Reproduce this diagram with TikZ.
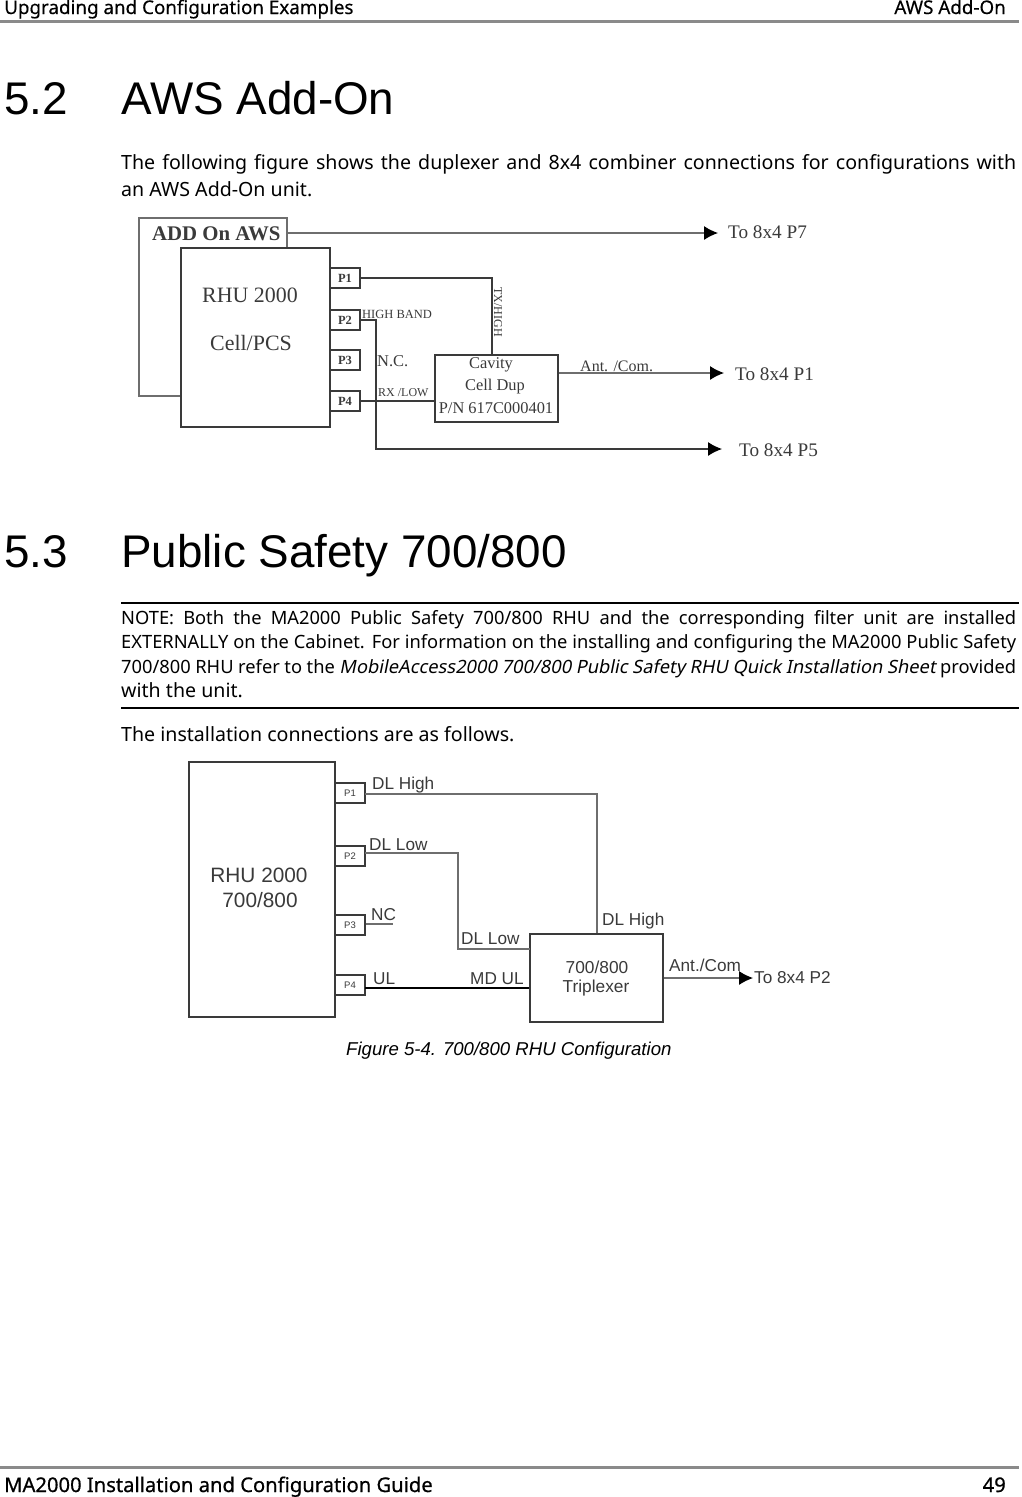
\documentclass[tikz,border=0pt]{standalone}
\usepackage{fontspec}
\usepackage{xcolor}
\usetikzlibrary{arrows.meta}
\setmainfont{Noto Sans}
\newfontfamily\arialfont{Liberation Sans}
\newfontfamily\timesfont{Liberation Serif}
\newfontfamily\pageheadfont[FakeBold=0.35]{Noto Sans}
\newfontfamily\pagefootfont[FakeBold=0.7]{Noto Sans}
\newfontfamily\slantfont[FakeSlant=0.2]{Noto Sans}
\definecolor{linegray}{HTML}{6E6E6E}
\definecolor{inkgray}{HTML}{3A3A3A}
\definecolor{rulegray}{HTML}{8A8A8A}
\newcommand{\fitline}[1]{\hbox to 895pt{#1}}
\tikzset{
  pagehead/.style={anchor=base west,inner sep=0pt,font=\pageheadfont\fontsize{18.8}{20}\selectfont},
  pagefoot/.style={anchor=base west,inner sep=0pt,font=\pagefootfont\fontsize{20.2}{22}\selectfont},
  heading/.style={anchor=base west,inner sep=0pt,font=\arialfont\fontsize{45.8}{50}\selectfont},
  bodyline/.style={anchor=base west,inner sep=0pt,font=\fontsize{19.6}{22}\selectfont},
  noteline/.style={anchor=base west,inner sep=0pt,font=\fontsize{18.3}{22}\selectfont},
  caption/.style={anchor=base west,inner sep=0pt,font=\arialfont\itshape\fontsize{18.6}{20}\selectfont},
  unitbox/.style={draw=inkgray,fill=white,line width=1.1pt,inner sep=0pt},
  portbox/.style={unitbox,minimum width=30pt,minimum height=20pt},
  wire/.style={draw=linegray,line width=1.1pt},
  feed/.style={wire,-{Latex[black,length=14pt,width=14pt]}},
  serif/.style={anchor=west,inner sep=0pt,text=inkgray,font=\timesfont\fontsize{#1}{#1}\selectfont},
  serif/.default=19.2,
  sans/.style={anchor=west,inner sep=0pt,text=inkgray,font=\arialfont\fontsize{#1}{#1}\selectfont},
  sans/.default=17.2,
  portlabel/.style={anchor=center,inner sep=0pt,text=inkgray,font=\timesfont\bfseries\fontsize{12.5}{12}\selectfont}
}
\begin{document}
\begin{tikzpicture}[x=1pt,y=-1pt]
  \useasboundingbox (0,0) rectangle (1021,1497);
  % page furniture
  \node[pagehead] (headleft) at (4,14) {Upgrading and Configuration Examples};
  \node[pagehead,anchor=base east] (headright) at (1006,14) {AWS Add-On};
  \draw[rulegray,line width=3pt] (0,21) -- (1019,21);
  \draw[rulegray,line width=3pt] (0,1467) -- (1019,1467);
  \node[pagefoot] (footleft) at (4,1492) {MA2000 Installation and Configuration Guide};
  \node[pagefoot,anchor=base east] (footright) at (1006,1492) {49};
  % section 5.2
  \node[heading] (numaws) at (4,114) {5.2};
  \node[heading] (titleaws) at (121,114) {AWS Add-On};
  \node[bodyline] (introa) at (121,169) {\fitline{The following figure shows the duplexer and 8x4 combiner connections for configurations with}};
  \node[bodyline] (introb) at (121,196) {an AWS Add-On unit.};
  % first figure
  \node[unitbox,draw=linegray,minimum width=148pt,minimum height=178pt] (addon) at (213,307) {};
  \node[unitbox,minimum width=149pt,minimum height=179pt] (rhucell) at (255.5,337.5) {};
  \node[serif=20.8,font=\timesfont\bfseries\fontsize{20.8}{20}\selectfont] (addlabel) at (152,234) {ADD On AWS};
  \node[serif=21.9,anchor=center] (rhua) at (250,295) {RHU 2000};
  \node[serif=21.9,anchor=center] (rhub) at (251,343) {Cell/PCS};
  \node[portbox] (cpa) at (345,278) {};
  \node[portbox] (cpb) at (345,320) {};
  \node[portbox] (cpc) at (345,360) {};
  \node[portbox] (cpd) at (345,401) {};
  \node[portlabel] (cpatext) at (cpa) {P1};
  \node[portlabel] (cpbtext) at (cpb) {P2};
  \node[portlabel] (cpctext) at (cpc) {P3};
  \node[portlabel] (cpdtext) at (cpd) {P4};
  \node[unitbox,minimum width=123pt,minimum height=67pt] (cavity) at (496.5,388.5) {};
  \node[serif=16.4,anchor=center] (cava) at (491,365) {Cavity};
  \node[serif=16.4,anchor=center] (cavb) at (495,387) {Cell Dup};
  \node[serif=16.4,anchor=center] (cavc) at (496,408) {P/N 617C000401};
  \node[serif] (top) at (728,232) {To 8x4 P7};
  \node[serif] (top1) at (735,374) {To 8x4 P1};
  \node[serif] (top5) at (739,450) {To 8x4 P5};
  \coordinate (txdrop) at (492,278);
  \coordinate (hicorner) at (376,320);
  \coordinate (hiend) at (722,449);
  \coordinate (addend) at (718,233);
  \coordinate (antend) at (724,373);
  \draw[feed] (287,233) -- (addend);
  \draw[wire,draw=inkgray] (cpa.east) -- (txdrop) -- (txdrop |- cavity.north);
  \draw[wire,draw=inkgray] (cpd.east) -- (cavity.west |- cpd.east);
  \draw[feed,draw=inkgray] (cpb.east) -- (hicorner) |- (hiend);
  \draw[feed] (cavity.east |- antend) -- (antend);
  \node[serif=12.5] (hiband) at (362,314) {HIGH BAND};
  \node[serif=16.5] (ncone) at (377,361) {N.C.};
  \node[serif=12] (rxlow) at (378,393) {RX /LOW};
  \node[serif=12,anchor=center,rotate=-90] (txhigh) at (498,312) {TX/HIGH};
  \node[serif=16] (antcom) at (580,366) {Ant. /Com.};
  % section 5.3
  \node[heading] (numsafe) at (4,567) {5.3};
  \node[heading] (titlesafe) at (121,567) {Public Safety 700/800};
  \draw[black,line width=1.5pt] (121,603) -- (1019,603);
  \node[noteline] (notea) at (121,624) {\fitline{NOTE: Both the MA2000 Public Safety 700/800 RHU and the corresponding filter unit are installed}};
  \node[noteline] (noteb) at (121,648) {\fitline{EXTERNALLY on the Cabinet. For information on the installing and configuring the MA2000 Public Safety}};
  \node[noteline] (notec) at (121,673) {\fitline{700/800 RHU refer to the {\slantfont MobileAccess2000 700/800 Public Safety RHU Quick Installation Sheet} provided}};
  \node[bodyline] (noted) at (121,697) {with the unit.};
  \draw[black,line width=1.5pt] (121,708) -- (1019,708);
  \node[bodyline] (follows) at (121,741) {The installation connections are as follows.};
  % second figure
  \node[unitbox,line width=2pt,minimum width=146pt,minimum height=255pt] (rhusafe) at (262,889.5) {};
  \node[sans=20.8,anchor=center] (safea) at (259,875) {RHU 2000};
  \node[sans=20.8,anchor=center] (safeb) at (260,900) {700/800};
  \node[portbox] (spa) at (350,793) {};
  \node[portbox] (spb) at (350,856) {};
  \node[portbox] (spc) at (350,925) {};
  \node[portbox] (spd) at (350,985) {};
  \node[sans=9.5,anchor=center] (spatext) at (spa) {P1};
  \node[sans=9.5,anchor=center] (spbtext) at (spb) {P2};
  \node[sans=9.5,anchor=center] (spctext) at (spc) {P3};
  \node[sans=9.5,anchor=center] (spdtext) at (spd) {P4};
  \node[unitbox,minimum width=133pt,minimum height=88pt] (triplex) at (596.5,978) {};
  \node[sans=17.3,anchor=center] (tripa) at (597,967) {700/800};
  \node[sans=17.3,anchor=center] (tripb) at (596,988) {Triplexer};
  \coordinate (hione) at (365,794);
  \coordinate (loone) at (365,853);
  \coordinate (locorner) at (458,853);
  \coordinate (loend) at (530,949);
  \coordinate (ncend) at (393,924);
  \coordinate (ulone) at (365,988);
  \coordinate (hidown) at (597,794);
  \coordinate (safeend) at (753,978);
  \draw[wire] (hione) -- (hidown) -- (hidown |- triplex.north);
  \draw[wire] (loone) -- (locorner) |- (loend);
  \draw[wire] (spc.east |- ncend) -- (ncend);
  \draw[wire,draw=black] (ulone) -- (triplex.west |- ulone);
  \draw[feed] (triplex.east |- safeend) -- (safeend);
  \node[sans] (dlhigha) at (372,785) {DL High};
  \node[sans] (dllowa) at (369,845) {DL Low};
  \node[sans] (ncsafe) at (371,915) {NC};
  \node[sans] (ulsafe) at (373,979) {UL};
  \node[sans] (dllowb) at (461,939) {DL Low};
  \node[sans] (mdul) at (470,979) {MD UL};
  \node[sans] (dlhighb) at (602,921) {DL High};
  \node[sans] (antsafe) at (669,965) {Ant./Com};
  \node[sans] (top2) at (754,978) {To 8x4 P2};
  \node[caption] (figcap) at (346,1055) {Figure 5-4. 700/800 RHU Configuration};
\end{tikzpicture}
\end{document}
